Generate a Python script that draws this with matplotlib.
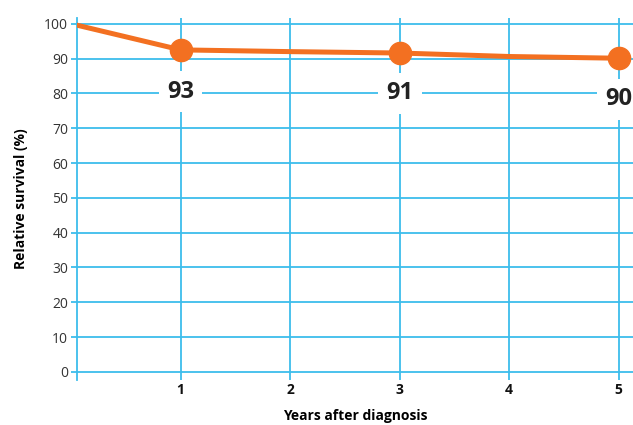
import matplotlib.pyplot as plt

plt.rcParams['font.family'] = ['Open Sans', 'DejaVu Sans']

# Data
years = [0, 1, 2, 3, 4, 5]
survival = [100, 92.5, 92.0, 91.6, 90.6, 90.1]
marker_years = [1, 3, 5]
marker_values = [92.5, 91.6, 90.1]
label_texts = ["93", "91", "90"]
label_y = [80.5, 80.0, 78.3]
yticks = list(range(0, 101, 10))
xticks = [1, 2, 3, 4, 5]

blue = "#3dbdec"
orange = "#f37021"

fig = plt.figure(figsize=(6.33, 4.25), dpi=100)
ax = fig.add_axes([0.121, 0.106, 0.879, 0.852])

ax.set_xlim(0.05, 5.13)
ax.set_ylim(-2.3, 101.7)
ax.set_xticks(xticks)
ax.set_yticks(yticks)
ax.grid(True, color=blue, linewidth=1.3, zorder=0)
ax.set_axisbelow(True)

for s in ["top", "right", "bottom"]:
    ax.spines[s].set_visible(False)
ax.spines["left"].set_color(blue)
ax.spines["left"].set_linewidth(1.3)

ax.tick_params(axis="y", length=4, width=1.3, color=blue, labelsize=10, labelcolor="#333333", pad=2)
ax.tick_params(axis="x", length=0, labelsize=10, labelcolor="#111111", pad=2)
for lab in ax.get_xticklabels():
    lab.set_fontweight("bold")

ax.plot(years, survival, color=orange, linewidth=3.6, zorder=3, solid_capstyle="butt")
ax.plot(marker_years, marker_values, "o", color=orange, markersize=16, zorder=4, clip_on=False)

for x, y, t in zip(marker_years, label_y, label_texts):
    ax.text(x, y, t, ha="center", va="center", fontsize=17, fontweight="bold", color="#222222",
            zorder=5, bbox=dict(boxstyle="square,pad=0.35", facecolor="white", edgecolor="none"))

ax.set_xlabel("Years after diagnosis", fontsize=10, fontweight="bold", labelpad=9)
ax.set_ylabel("Relative survival (%)", fontsize=10, fontweight="bold", labelpad=12)

fig.savefig("out.png", dpi=100)
